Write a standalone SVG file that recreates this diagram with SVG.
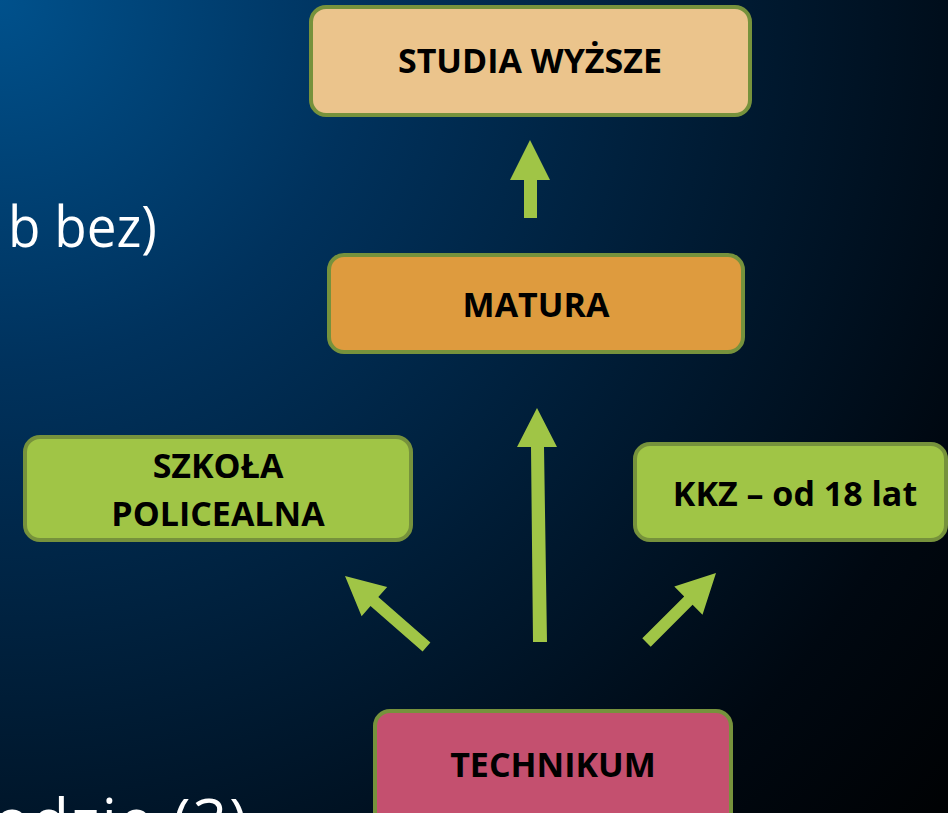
<svg xmlns="http://www.w3.org/2000/svg" width="948" height="813" viewBox="0 0 948 813">
<defs>
<radialGradient id="bg" gradientUnits="userSpaceOnUse" cx="0" cy="0" r="1300">
<stop offset="0" stop-color="#00518C"/>
<stop offset="0.28" stop-color="#00325D"/>
<stop offset="0.55" stop-color="#001C35"/>
<stop offset="0.8" stop-color="#000811"/>
<stop offset="1" stop-color="#000000"/>
</radialGradient>
<style>
.box{stroke:#76923C;stroke-width:4}
.lbl{font-family:"Open Sans","Noto Sans",sans-serif;font-weight:700;font-size:34px;fill:#000;text-anchor:middle}
.bg-t{font-family:"Open Sans","Noto Sans",sans-serif;font-size:56px;fill:#FFFFFF}
.arr{fill:#A0C546}
</style>
</defs>
<rect x="0" y="0" width="948" height="813" fill="url(#bg)"/>
<text class="bg-t" x="8" y="247" textLength="149" lengthAdjust="spacingAndGlyphs">b bez)</text>
<text class="bg-t" x="-6" y="842" style="font-size:60px" textLength="253" lengthAdjust="spacing">odzie (3)</text>
<g id="connectors">
<polygon class="arr" points="530,140 550,180 537,180 537,218 524,218 524,180 510,180"/>
<polygon class="arr" points="537,408 557,447 544,447 547,642 533,642 531,447 517,447"/>
<polygon class="arr" points="345,576 387.2,586.9 378.3,597.1 430.4,642.5 422.6,651.5 370.5,606.1 361.6,616.3"/>
<polygon class="arr" points="716,573 702.5,614.7 692.6,604.8 650.7,646.7 642.3,638.3 684.2,596.4 674.3,586.5"/>
</g>
<g id="studia">
<rect class="box" x="311" y="7" width="439" height="108" rx="15" fill="#EBC48C"/>
<text class="lbl" x="530" y="73">STUDIA WYŻSZE</text>
</g>
<g id="matura">
<rect class="box" x="329" y="255" width="414" height="97" rx="15" fill="#DE9B3E"/>
<text class="lbl" x="536" y="317">MATURA</text>
</g>
<g id="szkola">
<rect class="box" x="25" y="437" width="386" height="103" rx="15" fill="#A0C546"/>
<text class="lbl" x="218" y="478">SZKOŁA</text>
<text class="lbl" x="218" y="526">POLICEALNA</text>
</g>
<g id="kkz">
<rect class="box" x="635" y="444" width="311" height="96" rx="15" fill="#A0C546"/>
<text class="lbl" x="795" y="506">KKZ – od 18 lat</text>
</g>
<g id="technikum">
<rect class="box" x="375" y="711" width="356" height="120" rx="15" fill="#C4506F"/>
<text class="lbl" x="553" y="777">TECHNIKUM</text>
</g>
</svg>
